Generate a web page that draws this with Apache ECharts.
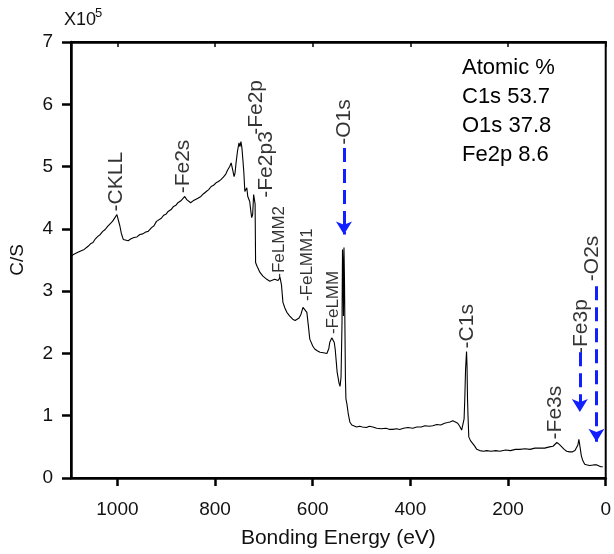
<!DOCTYPE html>
<html><head><meta charset="utf-8">
<script src="https://cdn.jsdelivr.net/npm/echarts@6/dist/echarts.min.js"></script>
<style>html,body{margin:0;padding:0;background:#fff}#c{width:614px;height:554px}</style>
</head><body><div id="c"></div>
<script>
// Binding energy (eV) and intensity (C/S, x10^5)
const energy = [1095,1090,1086,1082,1078,1074,1068,1064,1060,1055,1050,1045,1040,1035,1030,1025,1020,1015,1010,1005,1001,998,995,992,988,984,978,972,966,960,954,948,942,937,930,925,920,916,910,905,900,896,890,885,880,876,870,866,862,858,855,850,845,840,835,829,824,818,813,808,803,798,793,788,783,778,774,770,767,764,761,759,757,754,751,749,747,745,743,741,739,737,735,733,731,729,727,725,723,721,719,718,717,714,708,702,698,694,688,684,678,674,671,667,664,661,657,653,647,641,636,632,628,624,620,616,612,609,606,600,596,590,585,578,571,567,565,561,559,556,554,550,546,544,542,540,539,538,537,536,535,533,532,530,527,524,520,516,510,504,498,490,484,477,469,460,450,442,436,428,422,414,405,395,387,378,370,362,354,346,338,330,324,319,313,309,303,299,295,292,290,288.6,287,285,284,283,282,280.4,277,274,269,264,258,250,244,235,225,217,205,195,185,176,165,155,145,135,125,115,108,104,100,98,95,90,85,80,74,68,63,59,57,55,53,50,47,43,38,33,29,25,21,18,14,10,6];
const counts = [3.55,3.59,3.57,3.62,3.60,3.65,3.67,3.70,3.72,3.76,3.78,3.84,3.88,3.91,3.96,3.99,4.04,4.08,4.12,4.18,4.23,4.20,4.05,3.93,3.83,3.80,3.81,3.84,3.86,3.87,3.91,3.92,3.95,3.96,4.02,4.05,4.12,4.15,4.17,4.22,4.24,4.28,4.31,4.36,4.38,4.42,4.45,4.48,4.52,4.47,4.44,4.42,4.45,4.47,4.49,4.52,4.56,4.60,4.63,4.68,4.70,4.74,4.76,4.79,4.83,4.88,4.95,5.00,5.06,4.95,4.84,4.90,5.06,5.25,5.38,5.32,5.40,5.30,5.11,4.90,4.60,4.62,4.66,4.52,4.48,4.44,4.30,4.18,4.23,4.55,4.52,4.40,3.46,3.40,3.30,3.24,3.22,3.19,3.16,3.17,3.19,3.16,3.17,3.22,3.10,2.82,2.73,2.66,2.60,2.55,2.53,2.55,2.57,2.63,2.74,2.71,2.66,2.45,2.23,2.12,2.07,2.04,2.02,2.01,2.00,2.08,2.18,2.25,2.27,2.18,2.07,1.70,1.52,1.47,1.62,2.50,3.67,3.40,2.60,3.70,3.20,1.59,1.27,1.19,1.02,0.90,0.85,0.83,0.82,0.83,0.82,0.81,0.83,0.82,0.80,0.79,0.80,0.78,0.78,0.79,0.78,0.80,0.81,0.80,0.82,0.82,0.84,0.83,0.84,0.86,0.85,0.88,0.89,0.90,0.92,0.91,0.88,0.83,0.77,0.74,0.95,1.27,1.75,2.03,1.80,1.27,1.00,0.66,0.60,0.58,0.52,0.46,0.44,0.43,0.44,0.43,0.44,0.43,0.45,0.44,0.46,0.46,0.47,0.46,0.48,0.48,0.48,0.50,0.51,0.53,0.57,0.58,0.54,0.50,0.46,0.43,0.42,0.42,0.44,0.46,0.53,0.62,0.52,0.36,0.28,0.22,0.21,0.20,0.19,0.21,0.22,0.21,0.19,0.18,0.18];

// Peak annotations: name, energy, height where the label starts
const peakNames   = ['CKLL','Fe2s','Fe2p','Fe2p3','FeLMM2','FeLMM1','FeLMM','O1s','C1s','Fe3s','Fe3p','O2s'];
const peakEnergy  = [1003,866,716,696,669,612,557,536,284.5,104,51,27];
const peakLabelY  = [4.28,4.57,5.51,4.50,3.20,2.84,2.31,5.35,2.08,0.62,1.99,3.16];
const peakSmall   = [false,false,false,false,true,true,true,false,false,false,false,false];

// Dashed arrows: energy, start height, tip height
const arrowEnergy = [536,53,19];
const arrowFrom   = [5.30,2.02,3.08];
const arrowTo     = [3.91,1.06,0.58];

// Atomic composition
const elements = ['C1s','O1s','Fe2p'];
const atomicPct = [53.7,37.8,8.6];

const FONT = "'Liberation Sans', Arial, Helvetica, sans-serif";
const chart = echarts.init(document.getElementById('c'), null, {renderer:'canvas'});

const lineData = energy.map((e,i)=>[e,counts[i]]);
const labelData = peakNames.map((n,i)=>({
  value:[peakEnergy[i],peakLabelY[i]],
  name:n,
  label:{fontSize: peakSmall[i]?17:21}
}));
const arrowData = arrowEnergy.map((e,i)=>[{coord:[e,arrowFrom[i]]},{coord:[e,arrowTo[i]]}]);

const axisLineStyle = {color:'#000', width:2.5};
const txt = ['Atomic %'].concat(elements.map((el,i)=>el+' '+atomicPct[i]));

chart.setOption({
  animation:false,
  textStyle:{fontFamily:FONT},
  grid:{left:71,right:8,top:42,bottom:75,containLabel:false,show:true,borderColor:'#000',borderWidth:2,backgroundColor:'transparent'},
  xAxis:[{
    type:'value', inverse:true, min:0, max:1095, interval:200, position:'bottom',
    axisLine:{show:true,onZero:false,lineStyle:axisLineStyle},
    axisTick:{show:true,inside:false,length:8,lineStyle:{color:'#000',width:2.5}},
    axisLabel:{fontSize:19,color:'#111',margin:22,fontFamily:FONT,showMaxLabel:false,formatter:v=>String(v)},
    splitLine:{show:false},
    name:'Bonding Energy (eV)', nameLocation:'middle', nameGap:50,
    nameTextStyle:{fontSize:21,color:'#111',fontFamily:FONT}
  },{
    type:'value', inverse:true, min:0, max:1095, interval:200, position:'top',
    axisLine:{show:true,onZero:false,lineStyle:axisLineStyle},
    axisTick:{show:true,inside:true,length:5,lineStyle:{color:'#000',width:1.5}},
    axisLabel:{show:false}, splitLine:{show:false}
  }],
  yAxis:{
    type:'value', min:0, max:7, interval:1, position:'left',
    axisLine:{show:true,onZero:false,lineStyle:axisLineStyle},
    axisTick:{show:true,inside:false,length:9,lineStyle:{color:'#000',width:2.5}},
    axisLabel:{fontSize:19,color:'#111',margin:18,fontFamily:FONT},
    splitLine:{show:false},
    name:'C/S', nameLocation:'middle', nameGap:44, nameRotate:90,
    nameTextStyle:{fontSize:19,color:'#111',fontFamily:FONT}
  },
  series:[{
    type:'line', data:lineData, showSymbol:false, symbol:'none',
    lineStyle:{color:'#000',width:1.1}, z:3, silent:true
  },{
    type:'scatter', data:labelData, symbolSize:0, silent:true, z:4,
    label:{show:true, position:'inside', rotate:90, align:'left', verticalAlign:'middle',
      formatter:p=>'-'+p.name, color:'#000', fontFamily:FONT},
    markLine:{
      silent:true, symbol:['none','arrow'], symbolSize:[12,13],
      lineStyle:{color:'#1020ff', width:3, type:[14,7]},
      label:{show:false},
      data:arrowData
    }
  }],
  graphic:[
    {type:'text', left:64, top:11, style:{text:'X10', fontSize:18, fill:'#111', fontFamily:FONT}},
    {type:'text', left:95, top:7, style:{text:'5', fontSize:13, fill:'#111', fontFamily:FONT}}
  ].concat(txt.map((t,i)=>({type:'text', left:462, top:57+i*29, style:{text:t, fontSize:22, fill:'#000', fontFamily:FONT}})))
});
</script></body></html>
